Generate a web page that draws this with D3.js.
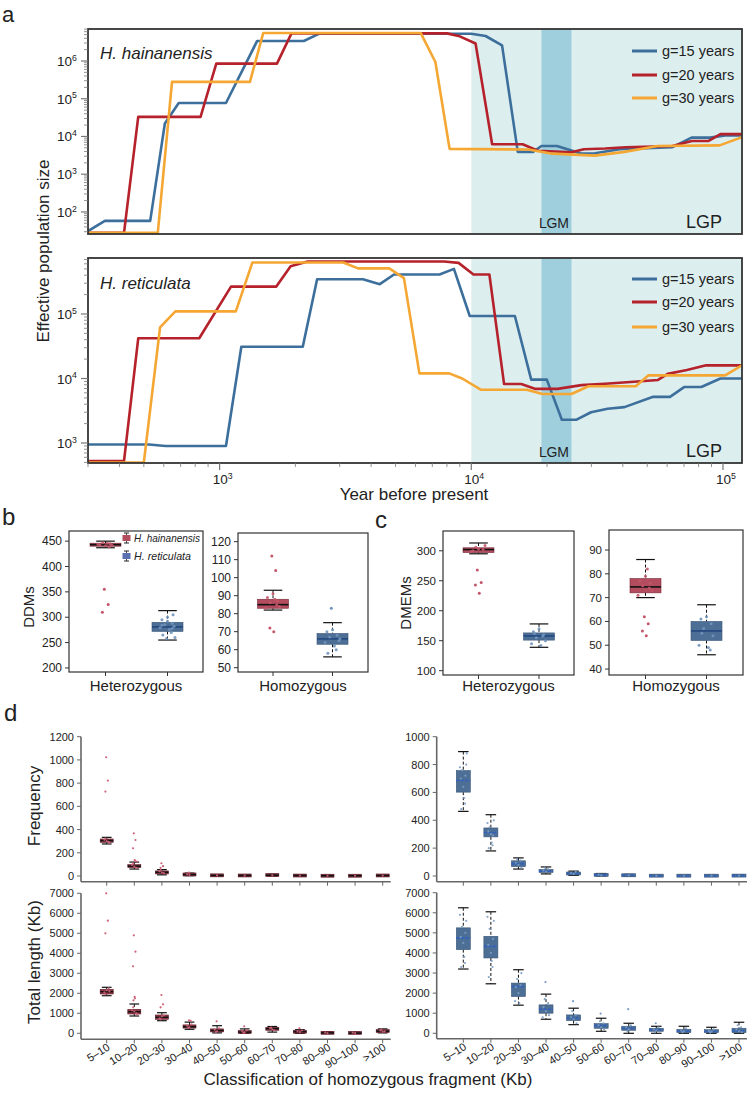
<!DOCTYPE html>
<html><head><meta charset="utf-8">
<script src="https://cdn.jsdelivr.net/npm/d3@7"></script>
<style>
body{margin:0;background:#fff}
text{font-family:"Liberation Sans",Arial,Helvetica,sans-serif;fill:#222}
</style>
</head><body><script>
// ---------------- DATA ----------------
// Panel a: PSMC-style curves [year, Ne]
const seriesNames = ["g=15 years","g=20 years","g=30 years"];
const seriesColors = ["#3d6f9c","#b5222b","#f5a733"];
const hainG15 = [[300,31],[350,58],[530,58],[606,22000],[688,77000],[1060,77000],[1410,3400000],[2160,3400000],[2490,5300000],[10000,5300000],[11400,4600000],[13250,2600000],[15300,3900],[17600,3900],[19000,5600],[21900,5600],[27300,3550],[31000,3600],[38800,4600],[63000,5200],[75000,9300],[89000,9300],[102000,10700],[119000,10700]];
const hainG20 = [[300,28],[417,28],[475,33000],[840,33000],[970,850000],[1690,850000],[1930,5400000],[8000,5400000],[9000,4500000],[10400,2900000],[12100,6200],[16000,6200],[18400,4200],[25000,3800],[28000,4600],[34000,4800],[41000,5200],[63000,5600],[75200,7600],[87700,7600],[97700,11500],[119000,11500]];
const hainG30 = [[300,28],[568,28],[647,280000],[1320,280000],[1490,5500000],[6300,5500000],[7200,940000],[8200,4700],[16900,4500],[21000,3500],[31000,3100],[40600,3900],[55000,5600],[97000,5800],[119000,9600]];
const retiG15 = [[300,950],[524,950],[610,900],[1060,900],[1220,31000],[2140,31000],[2440,346000],[3710,346000],[4330,290000],[4930,410000],[7480,410000],[8530,500000],[9860,93000],[14900,93000],[17300,9600],[19950,9600],[22900,2300],[26200,2300],[29900,3000],[34800,3400],[40600,3600],[52800,5200],[61600,5200],[70300,7400],[82000,7400],[97700,10000],[119000,10000]];
const retiG20 = [[300,525],[417,525],[475,42000],[830,42000],[1110,266000],[1680,266000],[1915,550000],[2240,650000],[7800,650000],[8900,620000],[10200,410000],[11800,410000],[13500,8200],[15800,8200],[18000,6900],[22000,6900],[27400,7900],[34000,8300],[44300,8900],[55200,9500],[60300,11800],[71900,13500],[85700,16000],[119000,16000]];
const retiG30 = [[300,500],[500,500],[580,62000],[667,110000],[1160,110000],[1350,630000],[3100,630000],[3550,510000],[4720,510000],[5400,360000],[6220,12000],[8170,12000],[9200,10000],[10900,6700],[16600,6700],[19200,5750],[25000,5750],[29200,7600],[45000,7600],[50600,11200],[102000,11200],[119000,16000]];
const lgmRange = [19000, 25000];
const lgpStart = 10000;

// Panels b and c: box stats
const speciesNames = ["H. hainanensis","H. reticulata"];
const ddmHetHain = {lo:437,q1:440,med:443,q3:446,hi:450,out:[355,325,310],pts:[441,443,445,447,442,444,446,439]};
const ddmHetReti = {lo:255,q1:272,med:281,q3:290,hi:313,out:[],pts:[300,295,288,285,282,279,276,270,265,260,258,305,292,284,278]};
const ddmHomHain = {lo:82,q1:83,med:85,q3:88,hi:93,out:[112,104,72,70],pts:[91,89,87,86,84,83,88,85]};
const ddmHomReti = {lo:56,q1:63,med:66,q3:69,hi:75,out:[83],pts:[71,70,68,67,65,64,62,60,58,66]};
const dmemHetHain = {lo:295,q1:297,med:302,q3:305,hi:313,out:[268,247,243,229],pts:[303,300,302,306,309,299]};
const dmemHetReti = {lo:139,q1:151,med:158,q3:163,hi:178,out:[],pts:[170,165,160,155,150,145,142,158,162]};
const dmemHomHain = {lo:70,q1:72,med:74.5,q3:78,hi:86,out:[62,59,56,54],pts:[79,77,76,75,73,71,82,74]};
const dmemHomReti = {lo:46,q1:52,med:56,q3:60,hi:67,out:[],pts:[62,61,59,57,54,50,49,48,55]};

// Panel d
const fragClasses = ["5–10","10–20","20–30","30–40","40–50","50–60","60–70","70–80","80–90","90–100",">100"];
// [lo, q1, med, q3, hi]
const freqHain = [[276,290,305,319,333],[60,72,85,98,120],[10,20,32,42,55],[3,8,12,18,25],[1,3,5,8,12],[0,2,4,7,10],[1,4,7,11,15],[0,2,4,6,9],[0,1,2,4,6],[0,1,2,4,6],[0,2,4,7,10]];
const freqHainOut = [[1023,822,727],[368,310,239,138,130],[110,85,70],[30],[],[],[],[],[],[],[]];
const freqHainPts = [[300,312,295,322,286],[80,95,70,110,125],[30,40,25,50],[10,15],[5],[3],[6],[4],[2],[2],[4]];
const lenHain = [[1880,1965,2080,2200,2300],[865,965,1080,1200,1465],[630,700,800,915,1030],[200,260,330,420,560],[20,80,140,210,380],[0,20,60,110,220],[60,160,230,290,340],[0,40,80,120,180],[0,0,20,50,80],[0,0,10,40,60],[20,60,110,160,220]];
const lenHainOut = [[7000,5630,5000],[4900,4080,3350,1820,1750,1650],[1915,1450,1300],[650,620],[600],[350],[],[250],[],[],[]];
const lenHainPts = [[2150,2050,2250,1950,2100],[1100,1150,1000,1300,950],[850,750,900,700],[300,380,450,280],[100,180,250,60],[50,90,150,20],[200,260,150,280],[60,100,140],[10,40],[5,30],[80,140,100,180]];
const freqReti = [[464,602,686,757,893],[180,281,312,345,440],[50,67,87,109,130],[15,25,35,47,65],[5,10,18,26,35],[1,4,8,13,18],[0,2,5,8,12],[0,1,2,4,6],[0,1,2,4,6],[0,1,2,4,6],[0,1,3,5,8]];
const freqRetiOut = [[],[],[],[],[],[],[],[],[],[],[]];
const freqRetiPts = [[640,700,720,760,800,780,560,520,480,880],[300,320,290,350,400,380,240,220,200],[80,95,110,120,60],[30,40,50,60],[15,20,30],[5,10],[4],[2],[2],[2],[3]];
const lenReti = [[3200,4165,4750,5250,6250],[2465,3750,4330,4830,6050],[1400,1830,2330,2500,3165],[700,1000,1200,1415,1950],[430,630,760,915,1250],[100,250,380,480,750],[0,150,250,350,500],[0,100,180,250,350],[0,30,100,200,350],[0,30,90,180,300],[0,30,130,250,550]];
const lenRetiOut = [[],[],[],[2550],[1600],[980],[1200],[500],[],[],[]];
const lenRetiPts = [[4500,4800,5000,5300,5600,5900,3800,3500,3300],[4000,4400,4700,5200,5600,5800,3600,3300,2800],[2000,2300,2400,2700,3000,1600,1500],[1100,1300,1500,1700,900,800],[700,800,900,1100,500],[300,400,500,600,200],[200,300,400,100],[150,200,300,50],[100,150,250,50],[80,120,200,30],[100,200,300,400,50]];

// ---------------- DRAW ----------------
const svg = d3.select("body").append("svg").attr("width",750).attr("height",1093);

const FRAME = "#333";
// ---- Panel a ----
const xA = d3.scaleLog().domain([300,119000]).range([88,742]);
function sup(g, x, y, base, exp, size, anchor){
  const t = g.append("text").attr("x",x).attr("y",y).attr("font-size",size).attr("text-anchor",anchor);
  t.append("tspan").text(base);
  t.append("tspan").attr("dy",-size*0.4).attr("font-size",size*0.65).text(exp);
  return t;
}
const panelsA = [
  {top:29,bottom:234,domain:[26,7.05e6],series:[hainG15,hainG20,hainG30],label:"H. hainanensis",labelY:59,decades:[2,3,4,5,6],legendY:[51,75,98],xAxis:false},
  {top:258,bottom:463,domain:[490,7.38e5],series:[retiG15,retiG20,retiG30],label:"H. reticulata",labelY:289,decades:[3,4,5],legendY:[279,302,327],xAxis:true}
];
const gA = svg.append("g");
panelsA.forEach((p,pi)=>{
  const y = d3.scaleLog().domain(p.domain).range([p.bottom,p.top]);
  const g = gA.append("g");
  const clipId = "clipA"+pi;
  g.append("clipPath").attr("id",clipId).append("rect").attr("x",88).attr("y",p.top).attr("width",654).attr("height",p.bottom-p.top);
  const inner = g.append("g").attr("clip-path",`url(#${clipId})`);
  inner.append("rect").attr("x",xA(lgpStart)).attr("y",p.top).attr("width",742-xA(lgpStart)).attr("height",p.bottom-p.top).attr("fill","#ddeeef");
  inner.append("rect").attr("x",xA(lgmRange[0])).attr("y",p.top).attr("width",xA(lgmRange[1])-xA(lgmRange[0])).attr("height",p.bottom-p.top).attr("fill","#9fcfdd");
  const line = d3.line().x(d=>xA(d[0])).y(d=>y(d[1]));
  p.series.forEach((s,i)=>{
    inner.append("path").attr("d",line(s)).attr("fill","none").attr("stroke",seriesColors[i]).attr("stroke-width",2.6).attr("stroke-linejoin","round");
  });
  g.append("text").attr("x",554).attr("y",p.bottom-6).attr("text-anchor","middle").attr("font-size",14).attr("textLength",30).text("LGM");
  g.append("text").attr("x",704).attr("y",p.bottom-6).attr("text-anchor","middle").attr("font-size",18).text("LGP");
  g.append("rect").attr("x",88).attr("y",p.top).attr("width",654).attr("height",p.bottom-p.top).attr("fill","none").attr("stroke",FRAME).attr("stroke-width",1.8);
  // y ticks
  const [d0,d1] = p.domain;
  for(let k=Math.floor(Math.log10(d0));k<=Math.ceil(Math.log10(d1));k++){
    for(let m=1;m<10;m++){
      const v=m*Math.pow(10,k);
      if(v<d0||v>d1) continue;
      const yy=y(v);
      g.append("line").attr("x1",88).attr("x2",m===1?81:84).attr("y1",yy).attr("y2",yy).attr("stroke","#777").attr("stroke-width",m===1?1.2:0.8);
    }
  }
  p.decades.forEach(k=>{ sup(g,77,y(Math.pow(10,k))+5,"10",String(k),13.5,"end"); });
  g.append("text").attr("x",100).attr("y",p.labelY).attr("font-size",17).attr("font-style","italic").text(p.label);
  seriesNames.forEach((n,i)=>{
    const ly=p.legendY[i];
    g.append("line").attr("x1",632).attr("x2",657).attr("y1",ly).attr("y2",ly).attr("stroke",seriesColors[i]).attr("stroke-width",3);
    g.append("text").attr("x",662).attr("y",ly+5).attr("font-size",14.5).text(n);
  });
  if(p.xAxis){
    for(let k=2;k<=5;k++){
      for(let m=1;m<10;m++){
        const v=m*Math.pow(10,k);
        if(v<300||v>119000) continue;
        const xx=xA(v);
        g.append("line").attr("x1",xx).attr("x2",xx).attr("y1",p.bottom).attr("y2",p.bottom+(m===1?7:4)).attr("stroke","#777").attr("stroke-width",m===1?1.2:0.8);
      }
    }
    [3,4,5].forEach(k=>{ sup(g,xA(Math.pow(10,k))+3,484,"10",String(k),13.5,"middle"); });
  }
});
svg.append("text").attr("transform","translate(49,251) rotate(-90)").attr("text-anchor","middle").attr("font-size",17).text("Effective population size");
svg.append("text").attr("x",414).attr("y",500).attr("text-anchor","middle").attr("font-size",17).text("Year before present");

// panel labels
svg.append("text").attr("x",2).attr("y",22).attr("font-size",22).text("a");
svg.append("text").attr("x",2).attr("y",525).attr("font-size",24).text("b");
svg.append("text").attr("x",375).attr("y",528).attr("font-size",24).text("c");
svg.append("text").attr("x",4).attr("y",721).attr("font-size",24).text("d");

// ---- box helpers ----
const jit=[0,-0.3,0.25,-0.15,0.35,-0.4,0.1,0.2,-0.25,0.4,-0.05,0.3];
const RED = {fill:"#b24c5e",stroke:"#7a2a36",median:"#111",pt:"#c4566a"};
const BLUE = {fill:"#4e6f95",stroke:"#3a5677",median:"#23477f",pt:"#7094bd"};
const BLUE_D = {fill:"#4e6f95",stroke:"#3a5677",median:"#2f5fc0",pt:"#7a9cc4"};
const RED_D = {fill:"#9c3a4b",stroke:"#5e1c27",median:"#111",pt:"#d0647a"};
function drawBox(g,y,cx,w,s,st,opt){
  opt=opt||{};
  const capW = opt.capW||w*0.6;
  const dash = opt.dash||"3,2";
  g.append("line").attr("x1",cx).attr("x2",cx).attr("y1",y(s.hi)).attr("y2",y(s.q3)).attr("stroke","#111").attr("stroke-width",1).attr("stroke-dasharray",dash);
  g.append("line").attr("x1",cx).attr("x2",cx).attr("y1",y(s.q1)).attr("y2",y(s.lo)).attr("stroke","#111").attr("stroke-width",1).attr("stroke-dasharray",dash);
  [s.hi,s.lo].forEach(v=>g.append("line").attr("x1",cx-capW/2).attr("x2",cx+capW/2).attr("y1",y(v)).attr("y2",y(v)).attr("stroke","#111").attr("stroke-width",1.2));
  const y3=y(s.q3), y1=y(s.q1);
  const h=Math.max(y1-y3,opt.minH||2);
  g.append("rect").attr("x",cx-w/2).attr("y",(y1+y3)/2-h/2).attr("width",w).attr("height",h).attr("fill",st.fill).attr("stroke",st.stroke).attr("stroke-width",0.6);
  g.append("line").attr("x1",cx-w/2).attr("x2",cx+w/2).attr("y1",y(s.med)).attr("y2",y(s.med)).attr("stroke",st.median).attr("stroke-width",opt.medW||1.6).attr("stroke-dasharray",opt.medDash||null);
  (s.pts||[]).forEach((v,i)=>g.append("circle").attr("cx",cx+jit[i%jit.length]*w*0.6).attr("cy",y(v)).attr("r",opt.r||1.4).attr("fill",st.pt).attr("opacity",0.9));
  (s.out||[]).forEach((v,i)=>g.append("circle").attr("cx",cx+jit[(i+3)%jit.length]*w*0.25).attr("cy",y(v)).attr("r",opt.r||1.4).attr("fill",st.pt));
}

// ---- Panels b, c ----
const boxPanels = [
  {x0:69,x1:203,y0:531,y1:672,domain:[192,470],ticks:[200,250,300,350,400,450],cx:[105.5,167.5],data:[ddmHetHain,ddmHetReti],xlab:"Heterozygous",fs:12},
  {x0:238,x1:368,y0:533,y1:672,domain:[47.6,124.8],ticks:[50,60,70,80,90,100,110,120],cx:[273,332.5],data:[ddmHomHain,ddmHomReti],xlab:"Homozygous",fs:12},
  {x0:443,x1:574,y0:531,y1:675,domain:[92.8,333],ticks:[100,150,200,250,300],cx:[478.5,539],data:[dmemHetHain,dmemHetReti],xlab:"Heterozygous",fs:11.5},
  {x0:609,x1:743,y0:530,y1:675,domain:[37.5,98.4],ticks:[40,50,60,70,80,90],cx:[645.5,706.5],data:[dmemHomHain,dmemHomReti],xlab:"Homozygous",fs:11.5}
];
boxPanels.forEach(p=>{
  const g=svg.append("g");
  const y=d3.scaleLinear().domain(p.domain).range([p.y1,p.y0]);
  p.ticks.forEach(t=>{
    g.append("line").attr("x1",p.x0).attr("x2",p.x0-4).attr("y1",y(t)).attr("y2",y(t)).attr("stroke","#333").attr("stroke-width",1);
    g.append("text").attr("x",p.x0-7).attr("y",y(t)+4).attr("text-anchor","end").attr("font-size",p.fs).text(t);
  });
  p.cx.forEach(c=>g.append("line").attr("x1",c).attr("x2",c).attr("y1",p.y1).attr("y2",p.y1+4).attr("stroke","#333"));
  drawBox(g,y,p.cx[0],31,p.data[0],RED,{r:1.5});
  drawBox(g,y,p.cx[1],31,p.data[1],BLUE,{r:1.5});
  g.append("rect").attr("x",p.x0).attr("y",p.y0).attr("width",p.x1-p.x0).attr("height",p.y1-p.y0).attr("fill","none").attr("stroke","#333").attr("stroke-width",1.2);
  g.append("text").attr("x",(p.x0+p.x1)/2).attr("y",691).attr("text-anchor","middle").attr("font-size",15).text(p.xlab);
});
svg.append("text").attr("transform","translate(34,607) rotate(-90)").attr("text-anchor","middle").attr("font-size",15).text("DDMs");
svg.append("text").attr("transform","translate(411,603) rotate(-90)").attr("text-anchor","middle").attr("font-size",15).text("DMEMs");
// legend in b
[[RED,538,66],[BLUE,556,57]].forEach(([st,ly,tl],i)=>{
  const g=svg.append("g");
  g.append("line").attr("x1",126.5).attr("x2",126.5).attr("y1",ly-5).attr("y2",ly+5).attr("stroke","#222").attr("stroke-width",0.8);
  g.append("line").attr("x1",124).attr("x2",129).attr("y1",ly-5).attr("y2",ly-5).attr("stroke","#222");
  g.append("line").attr("x1",124).attr("x2",129).attr("y1",ly+5).attr("y2",ly+5).attr("stroke","#222");
  g.append("rect").attr("x",122.5).attr("y",ly-3).attr("width",8).attr("height",6).attr("fill",i===0?"#b24c5e":"#5870b0");
  g.append("text").attr("x",134).attr("y",ly+4).attr("font-size",11).attr("font-style","italic").attr("textLength",tl).attr("lengthAdjust","spacingAndGlyphs").text(speciesNames[i]);
});

// ---- Panel d ----
const dPanels = [
  {ax:81,x0:106.7,step:27.6,y0:736.7,y1:876,base:881.7,dom:[0,1200],ticks:[0,200,400,600,800,1000,1200],stats:freqHain,outs:freqHainOut,pts:freqHainPts,st:RED_D,w:13,labels:false},
  {ax:81,x0:106.7,step:27.6,y0:893.3,y1:1033.3,base:1039.3,dom:[0,7000],ticks:[0,1000,2000,3000,4000,5000,6000,7000],stats:lenHain,outs:lenHainOut,pts:lenHainPts,st:RED_D,w:13,labels:true},
  {ax:436.7,x0:463.3,step:27.57,y0:736.7,y1:876,base:881.7,dom:[0,1000],ticks:[0,200,400,600,800,1000],stats:freqReti,outs:freqRetiOut,pts:freqRetiPts,st:BLUE_D,w:14,labels:false},
  {ax:436.7,x0:463.3,step:27.57,y0:892.7,y1:1033.3,base:1038.7,dom:[0,7000],ticks:[0,1000,2000,3000,4000,5000,6000,7000],stats:lenReti,outs:lenRetiOut,pts:lenRetiPts,st:BLUE_D,w:14,labels:true}
];
dPanels.forEach(p=>{
  const g=svg.append("g");
  const y=d3.scaleLinear().domain(p.dom).range([p.y1,p.y0]);
  const xEnd=p.x0+p.step*10+8;
  g.append("line").attr("x1",p.ax).attr("x2",p.ax).attr("y1",p.y0).attr("y2",p.base).attr("stroke","#666").attr("stroke-width",1.6);
  g.append("line").attr("x1",p.ax).attr("x2",xEnd).attr("y1",p.base).attr("y2",p.base).attr("stroke","#666").attr("stroke-width",1.6);
  p.ticks.forEach(t=>{
    g.append("line").attr("x1",p.ax).attr("x2",p.ax-4).attr("y1",y(t)).attr("y2",y(t)).attr("stroke","#666").attr("stroke-width",1);
    g.append("text").attr("x",p.ax-7).attr("y",y(t)+4).attr("text-anchor","end").attr("font-size",11).text(t);
  });
  fragClasses.forEach((c,i)=>{
    const cx=p.x0+p.step*i;
    g.append("line").attr("x1",cx).attr("x2",cx).attr("y1",p.base).attr("y2",p.base+4).attr("stroke","#666").attr("stroke-width",1);
    const s=p.stats[i];
    const box={lo:s[0],q1:s[1],med:s[2],q3:s[3],hi:s[4],out:p.outs[i],pts:p.pts[i]};
    drawBox(g,y,cx,p.w,box,p.st,{r:1.1,capW:p.w*0.75,minH:3,medW:1.6,medDash:p.st===BLUE_D?"3,1.5":null});
    if(p.labels){
      g.append("text").attr("transform",`translate(${cx+4},${p.base+10}) rotate(-32)`).attr("text-anchor","end").attr("font-size",11).text(c);
    }
  });
});
svg.append("text").attr("transform","translate(40,806) rotate(-90)").attr("text-anchor","middle").attr("font-size",17).text("Frequency");
svg.append("text").attr("transform","translate(40,962) rotate(-90)").attr("text-anchor","middle").attr("font-size",17).text("Total length (Kb)");
svg.append("text").attr("x",368).attr("y",1085).attr("text-anchor","middle").attr("font-size",17).text("Classification of homozygous fragment (Kb)");
</script></body></html>
